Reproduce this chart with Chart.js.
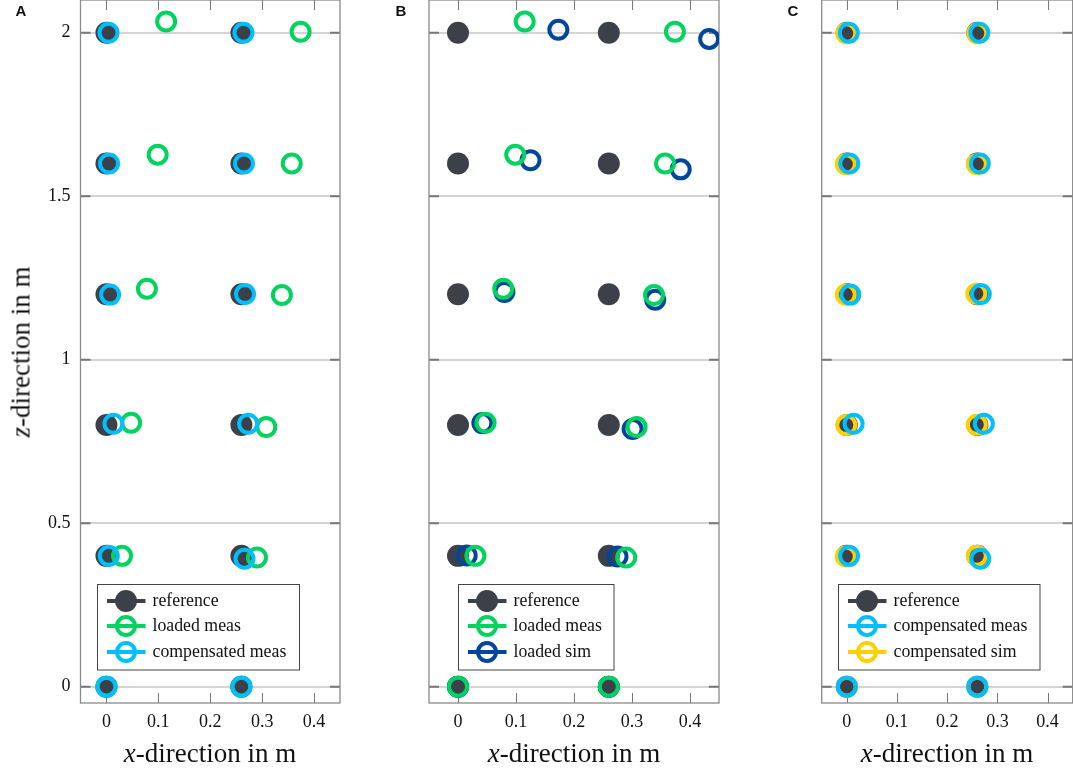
<!DOCTYPE html>
<html>
<head>
<meta charset="utf-8">
<title>Reference and measured positions</title>
<script src="https://cdn.jsdelivr.net/npm/chart.js@4"></script>
<style>
    body { margin: 0; background: #fff; width: 1073px; height: 771px; overflow: hidden; position: relative; }
    canvas { position: absolute; top: 0; }
    .title { position: absolute; font-family: "Liberation Serif", serif; font-size: 27px; color: #111; white-space: nowrap; transform: translate(-50%, -50%); }
    .letter { position: absolute; font-family: "Liberation Sans", sans-serif; font-weight: bold; font-size: 15px; color: #111; transform: translate(-50%, -50%); }
</style>
</head>
<body>
<canvas id="panelA" width="345" height="771" style="left:0"></canvas>
<canvas id="panelB" width="335" height="771" style="left:390px"></canvas>
<canvas id="panelC" width="283" height="771" style="left:790px"></canvas>

<div class="letter" style="left:21px;top:10px">A</div>
<div class="letter" style="left:401px;top:10px">B</div>
<div class="letter" style="left:793px;top:10px">C</div>
<div class="title" style="left:21px;top:352px;transform:translate(-50%,-50%) rotate(-90deg)"><i>z</i>-direction in m</div>
<div class="title" style="left:210px;top:753px"><i>x</i>-direction in m</div>
<div class="title" style="left:574px;top:753px"><i>x</i>-direction in m</div>
<div class="title" style="left:947px;top:753px"><i>x</i>-direction in m</div>

<script>
const xTicks = [0, 0.1, 0.2, 0.3, 0.4];
const zTicks = [0, 0.5, 1, 1.5, 2];

// points go bottom to top, left column then right column
const referenceX = [0, 0.26, 0, 0.26, 0, 0.26, 0, 0.26, 0, 0.26, 0, 0.26];
const referenceZ = [0, 0, 0.4, 0.4, 0.8, 0.8, 1.2, 1.2, 1.6, 1.6, 2, 2];

const loadedMeasX = [0, 0.26, 0.03, 0.29, 0.0475, 0.308, 0.078, 0.338, 0.0987, 0.357, 0.115, 0.374];
const loadedMeasZ = [0, 0, 0.4, 0.395, 0.807, 0.794, 1.217, 1.198, 1.627, 1.6, 2.034, 2.003];

const compMeasX = [0, 0.26, 0.0045, 0.266, 0.0135, 0.273, 0.007, 0.267, 0.005, 0.265, 0.004, 0.264];
const compMeasZ = [0, 0, 0.4, 0.391, 0.804, 0.804, 1.199, 1.201, 1.6, 1.6, 2, 2];

const loadedSimX = [0, 0.26, 0.015, 0.275, 0.042, 0.301, 0.08, 0.34, 0.125, 0.384, 0.173, 0.433];
const loadedSimZ = [0, 0, 0.401, 0.398, 0.806, 0.788, 1.207, 1.183, 1.61, 1.582, 2.009, 1.981];

const compSimX = [0, 0.26, -0.002, 0.259, -0.001, 0.259, -0.002, 0.258, -0.002, 0.259, -0.001, 0.26];
const compSimZ = [0, 0, 0.398, 0.4, 0.8, 0.801, 1.199, 1.202, 1.598, 1.598, 1.998, 1.998];

const DARK = '#3c4049';
const GREEN = '#00d45f';
const BLUE = '#00bfff';
const NAVY = '#00479c';
const YELLOW = '#ffd000';
const SERIF = '"Liberation Serif", serif';

function toPoints(xs, zs) {
    return xs.map((x, i) => ({ x: x, y: zs[i] }));
}

function reference() {
    return {
        label: 'reference', data: toPoints(referenceX, referenceZ), showLine: false, order: 3,
        pointRadius: 11, pointBackgroundColor: DARK, pointBorderColor: DARK, pointBorderWidth: 0,
        legendColor: DARK, legendFilled: true
    };
}

function ring(label, xs, zs, color, order) {
    return {
        label: label, data: toPoints(xs, zs), showLine: false, order: order,
        pointRadius: 9, pointBackgroundColor: 'transparent', pointBorderColor: color, pointBorderWidth: 4,
        legendColor: color, legendFilled: false
    };
}

// inward ticks and the grey frame round the plot
const frameTicks = {
    id: 'frameTicks',
    beforeDatasetsDraw(chart) {
        const { ctx, chartArea: a, scales } = chart;
        ctx.save();
        ctx.strokeStyle = '#777';
        ctx.lineWidth = 1;
        ctx.beginPath();
        xTicks.forEach(t => {
            const p = Math.round(scales.x.getPixelForValue(t)) + 0.5;
            ctx.moveTo(p, a.bottom); ctx.lineTo(p, a.bottom - 10);
            ctx.moveTo(p, a.top); ctx.lineTo(p, a.top + 10);
        });
        ctx.stroke();
        ctx.lineWidth = 2;
        ctx.beginPath();
        zTicks.forEach(t => {
            const p = scales.y.getPixelForValue(t);
            ctx.moveTo(a.left, p); ctx.lineTo(a.left + 10, p);
            ctx.moveTo(a.right, p); ctx.lineTo(a.right - 10, p);
        });
        ctx.stroke();
        ctx.strokeStyle = '#8a8a8a';
        ctx.lineWidth = 1.3;
        ctx.strokeRect(a.left, a.top, a.right - a.left, a.bottom - a.top);
        ctx.restore();
    }
};

// Chart.js' own legend has no line-through-marker symbol, so it is drawn here from the datasets
const lineLegend = {
    id: 'lineLegend',
    afterDraw(chart, args, opts) {
        const ctx = chart.ctx;
        const rows = [601, 626, 652];
        ctx.save();
        ctx.fillStyle = '#fff';
        ctx.strokeStyle = '#444';
        ctx.lineWidth = 1;
        ctx.fillRect(opts.left, 584.5, opts.width, 85.5);
        ctx.strokeRect(opts.left, 584.5, opts.width, 85.5);
        chart.data.datasets.forEach((ds, i) => {
            const y = rows[i];
            const cx = opts.left + 28.5;
            ctx.strokeStyle = ds.legendColor;
            ctx.lineWidth = 4;
            ctx.beginPath();
            ctx.moveTo(opts.left + 9.5, y);
            ctx.lineTo(opts.left + 48, y);
            ctx.stroke();
            ctx.beginPath();
            if (ds.legendFilled) {
                ctx.arc(cx, y, 11, 0, Math.PI * 2);
                ctx.fillStyle = ds.legendColor;
                ctx.fill();
            } else {
                ctx.arc(cx, y, 9, 0, Math.PI * 2);
                ctx.stroke();
            }
            ctx.fillStyle = '#111';
            ctx.font = '17.8px ' + SERIF;
            ctx.textAlign = 'left';
            ctx.textBaseline = 'middle';
            ctx.fillText(ds.label, opts.left + 55, y);
        });
        ctx.restore();
    }
};

function makePanel(id, datasets, plotLeft, rightPad, legendLeft, legendWidth, showZLabels) {
    new Chart(document.getElementById(id), {
        type: 'scatter',
        data: { datasets: datasets },
        plugins: [frameTicks, lineLegend],
        options: {
            responsive: false,
            animation: false,
            events: [],
            layout: { autoPadding: false, padding: { top: 0, right: rightPad, bottom: 0, left: 0 } },
            scales: {
                x: {
                    min: -0.05, max: 0.45,
                    afterBuildTicks: s => { s.ticks = xTicks.map(v => ({ value: v })); },
                    afterFit: s => { s.height = 68; s.paddingLeft = 0; s.paddingRight = 0; },
                    grid: { display: false, drawTicks: false },
                    border: { display: false },
                    ticks: {
                        padding: 8, color: '#111', maxRotation: 0, autoSkip: false,
                        font: { family: SERIF, size: 18 },
                        callback: v => String(v)
                    }
                },
                y: {
                    min: -0.05, max: 2.1,
                    afterBuildTicks: s => { s.ticks = zTicks.map(v => ({ value: v })); },
                    afterFit: s => { s.width = plotLeft; s.paddingTop = 0; s.paddingBottom = 0; },
                    grid: { color: '#d4d4d4', lineWidth: 2, drawTicks: false },
                    border: { display: false },
                    ticks: {
                        display: showZLabels, padding: 10, color: '#111', autoSkip: false,
                        font: { family: SERIF, size: 18 },
                        callback: v => String(v)
                    }
                }
            },
            plugins: {
                legend: { display: false },
                tooltip: { enabled: false },
                lineLegend: { left: legendLeft, width: legendWidth }
            }
        }
    });
}

makePanel('panelA', [
    reference(),
    ring('loaded meas', loadedMeasX, loadedMeasZ, GREEN, 2),
    ring('compensated meas', compMeasX, compMeasZ, BLUE, 1)
], 80.5, 5, 97.5, 202, true);

makePanel('panelB', [
    reference(),
    ring('loaded meas', loadedMeasX, loadedMeasZ, GREEN, 1),
    ring('loaded sim', loadedSimX, loadedSimZ, NAVY, 2)
], 39, 6, 68.5, 155.5, false);

makePanel('panelC', [
    reference(),
    ring('compensated meas', compMeasX, compMeasZ, BLUE, 1),
    ring('compensated sim', compSimX, compSimZ, YELLOW, 2)
], 31.7, 0.3, 48.5, 201.5, false);
</script>
</body>
</html>
